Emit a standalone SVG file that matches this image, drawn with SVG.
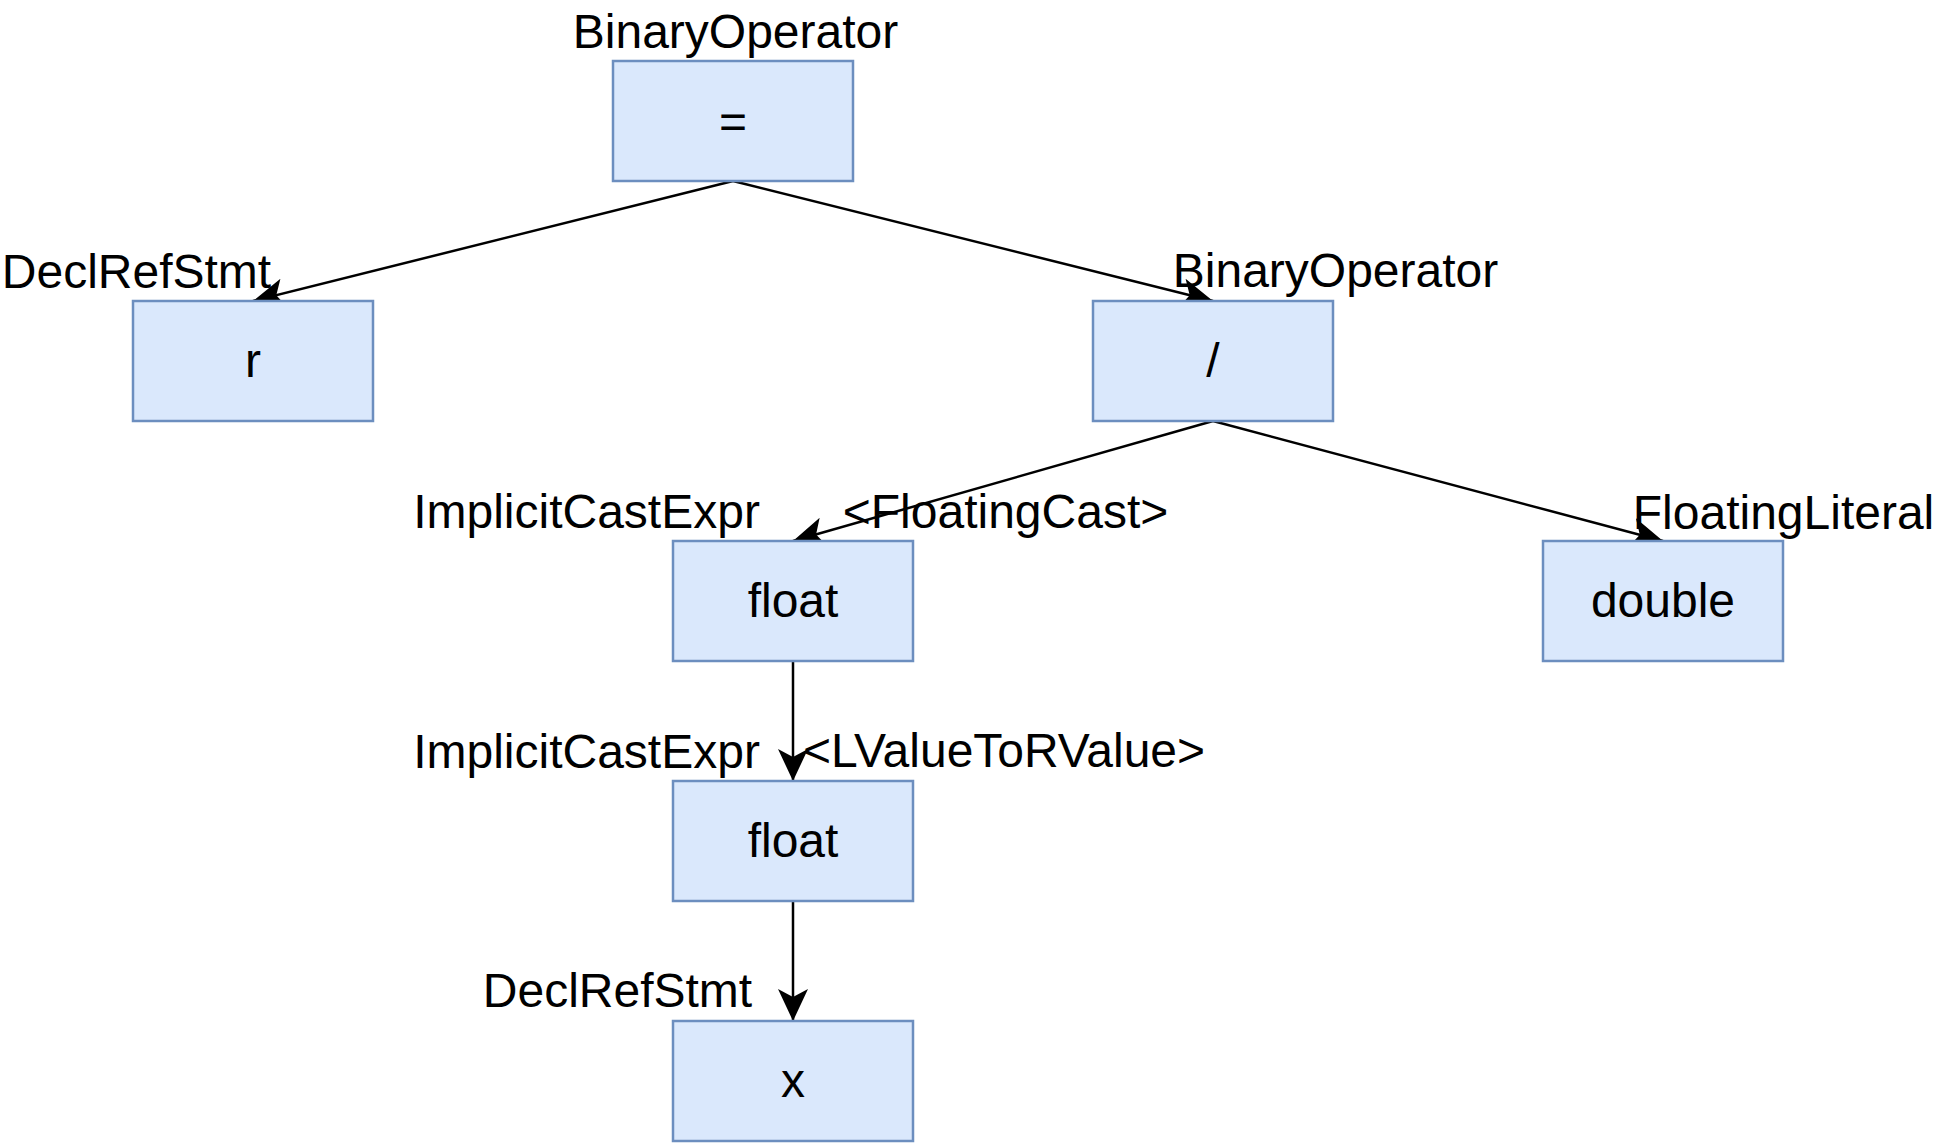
<svg xmlns="http://www.w3.org/2000/svg" width="1935" height="1143" viewBox="0 0 1935 1143">
<style>
.box{fill:#dae8fc;stroke:#6c8ebf;stroke-width:2.5}
.t{font-family:"Liberation Sans",Arial,Helvetica,sans-serif;font-size:48px;fill:#000;text-anchor:middle}
.e{stroke:#000;stroke-width:2.5;fill:none;marker-end:url(#arr)}
</style>
<defs>
<marker id="arr" markerUnits="userSpaceOnUse" markerWidth="36" markerHeight="34" viewBox="-34 -17 36 34" refX="0" refY="0" orient="auto">
<path d="M0,0 L-32,-15 L-24,0 L-32,15 Z" fill="#000"/>
</marker>
</defs>
<rect width="1935" height="1143" fill="#fff"/>
<g id="connectors">
<line class="e" x1="733" y1="181" x2="253" y2="301"/>
<line class="e" x1="733" y1="181" x2="1213" y2="301"/>
<line class="e" x1="1213" y1="421" x2="793" y2="541"/>
<line class="e" x1="1213" y1="421" x2="1663" y2="541"/>
<line class="e" x1="793" y1="661" x2="793" y2="781"/>
<line class="e" x1="793" y1="901" x2="793" y2="1021"/>
</g>
<g id="node-assign">
<rect class="box" x="613" y="61" width="240" height="120"/>
<text class="t" x="733" y="138">=</text>
<text class="t" x="735.5" y="48">BinaryOperator</text>
</g>
<g id="node-r">
<rect class="box" x="133" y="301" width="240" height="120"/>
<text class="t" x="253" y="377">r</text>
<text class="t" x="136.5" y="288">DeclRefStmt</text>
</g>
<g id="node-div">
<rect class="box" x="1093" y="301" width="240" height="120"/>
<text class="t" x="1213" y="377">/</text>
<text class="t" x="1335.5" y="287">BinaryOperator</text>
</g>
<g id="node-float1">
<rect class="box" x="673" y="541" width="240" height="120"/>
<text class="t" x="793" y="617">float</text>
<text class="t" x="586.5" y="528">ImplicitCastExpr</text>
<text class="t" x="1005.5" y="528">&lt;FloatingCast&gt;</text>
</g>
<g id="node-double">
<rect class="box" x="1543" y="541" width="240" height="120"/>
<text class="t" x="1663" y="617">double</text>
<text class="t" x="1783.5" y="529">FloatingLiteral</text>
</g>
<g id="node-float2">
<rect class="box" x="673" y="781" width="240" height="120"/>
<text class="t" x="793" y="857">float</text>
<text class="t" x="586.5" y="768">ImplicitCastExpr</text>
<text class="t" x="1004" y="767">&lt;LValueToRValue&gt;</text>
</g>
<g id="node-x">
<rect class="box" x="673" y="1021" width="240" height="120"/>
<text class="t" x="793" y="1097">x</text>
<text class="t" x="617.5" y="1007">DeclRefStmt</text>
</g>
</svg>
